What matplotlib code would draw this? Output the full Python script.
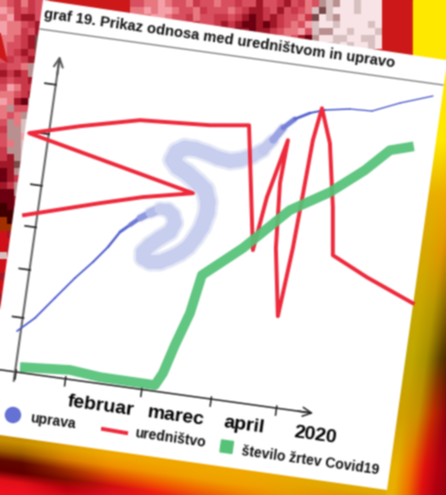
import numpy as np
import matplotlib
matplotlib.use('Agg')
import matplotlib.pyplot as plt
from matplotlib.collections import LineCollection
from matplotlib.colors import to_rgb, to_hex
from matplotlib.patches import Polygon, Rectangle
from matplotlib.transforms import Affine2D

plt.rcParams['font.family'] = ['Liberation Sans', 'DejaVu Sans']

# chart values
title = 'graf 19. Prikaz odnosa med uredništvom in upravo'
month_labels = ['februar', 'marec', 'april', '2020']
month_label_x = [88, 164, 233, 305]
x_ticks = [0, 50, 127, 197, 263]
y_ticks = [54.5, 103, 146, 188, 240, 290]

uprava_x = [-4.6, 11.4, 28.4, 45.5, 61.2, 73.9, 83.8, 92.7, 101.6, 110.9, 120.2, 128.3, 133.9, 137,
            133.3, 124.2, 115.3, 109.3, 110.1, 117.6, 127.5, 136.8, 146, 153.2, 158.9, 164.3, 167.4,
            166.8, 162.2, 153.2, 142.1, 132.3, 126.4, 129.3, 136.6, 146.7, 159.1, 170.7, 183, 192.8,
            204.1, 214.2, 222.7, 231, 241.5, 255.6, 270.1, 294.7, 316.7, 343.4, 375.1]
uprava_y = [40.7, 56.1, 78.7, 101.2, 119.6, 136.4, 153, 161.3, 169.5, 175.9, 181.3, 181.4, 177.1, 169.4,
            159.9, 152.5, 144.2, 136.3, 130.3, 127.4, 128.8, 134.1, 140.4, 147.4, 157.3, 169.2, 183.7,
            194.8, 206.3, 213.1, 220.6, 225.3, 231.6, 240, 245.1, 245.5, 243.1, 239.8, 238.4, 240.8,
            246.3, 253.8, 265.1, 278.4, 288.9, 296.9, 302, 306.4, 307.4, 319.2, 330.7]
uprava_spread = [2, 2, 2, 2, 2, 2.5, 3, 4, 6, 9, 12, 14, 15, 15,
                 16, 16, 16, 16, 16, 16, 16, 16, 16, 16, 16, 17, 17,
                 18, 18, 18, 18, 18, 18, 18, 17, 16, 16, 16, 16, 16,
                 15, 13, 10, 7, 4, 2.5, 2, 1.5, 1.5, 1.5, 1.5]

urednistvo_x = [-13.6, 60, 101.7, 150.7, -19.8, 29.7, 88.3, 158.3, 196.9, 217.9, 224.5, 237.5,
                235.5, 240.4, 251.7, 257.2, 259.5, 262.2, 266.8, 279.5, 291.2, 297.8, 334.5, 383.5]
urednistvo_y = [156.5, 178.8, 190.7, 201.4, 238.4, 252.3, 266.5, 271.1, 276.4, 153.3, 207.7, 267,
                223.3, 158.4, 91.3, 160.7, 209.5, 270.4, 303.3, 269.7, 206.8, 159.2, 142.1, 122.7]

zrtve_x = [3.3, 53.2, 83.8, 139.4, 145.7, 153.7, 164.2, 170.8, 207.7, 249, 286.2, 317.8, 339.9, 363]
zrtve_y = [5.5, 9.4, 6.5, 6.1, 19.1, 48.5, 82.2, 121.5, 153.9, 197.9, 221.2, 247.8, 271, 278.2]

# background colours
palette = {'p': '#f4a0a8', 'm': '#e87880', 'r': '#d85060', 's': '#c83848', 'd': '#a01828',
           'k': '#6a0010', 'g': '#b89090', 'w': '#f8e4e6', 'h': '#d8c0c0', 'b': '#7a4a4a',
           'o': '#a03000', 'R': '#d01018', 'K': '#400000'}
top_mosaic = ['rrmmpmrrmsrrmrrsrrdrrsdrsmrghgwwhwww',
              'mmpmppmrrmsrrrmrsddsrdrsrmhbhwwwhwww',
              'pmmppmrrsmrrssrsdkdsdsrrmsbwhgwwwwww',
              'ppmrmmrsrsrrsdsdkkdkdsrmrphwwhwwwwhw',
              'mpmmrrsrrmrsrsdkdkddsrmmprhggwwhwwwh',
              'pppmmrrrmmrmrrdkkdsrmpmrdkgwwhhwwhhw',
              'ppmmmrmrmrrrmsddsrmppmrkkrhwhhwhwwhw']
left_mosaic = ['mrsmsrr', 'pmsrsrd', 'mpsddrd', 'pmmrsdd', 'pmmsrdk', 'mmrsdbd', 'mrrsdbd',
               'mrsdsbg', 'rsrsdbb', 'srrmgpd', 'dsdsggk', 'srssdgg', 'rpmssgg', 'mmrsdkk',
               'pmdkghh', 'mgrrbgg', 'mrmgggh', 'rgmhgpp', 'sgghgpp', 'rggphgh', 'rmghhgg',
               'sgghgph', 'sdghggh', 'ddbgshh', 'kdgphhh', 'kdsgphh', 'dsgpphh', 'kkgghhh',
               'kkdhhhh', 'Kkkhhhh', 'KKkhhhh', 'oKohhhh', 'oooRRRR', 'RdoRRRR', 'RRRRRRR',
               'RdRRRRR', 'hRRRRRR', 'RRRRRRR', 'RRRRRRR', 'dRRRRRR', 'RRRRRRR', 'RRRRRRR',
               'dRRRRRR', 'RRRRRRR', 'RRRRRRR']
right_fade = [['#ffe800', '#ffe800', '#ffe800', '#ffe800', '#ffe800'],
              ['#ffe800', '#ffd800', '#f8c800', '#f8c000', '#f8b800'],
              ['#e8b000', '#f0a800', '#f09000', '#e08000', '#d07000'],
              ['#d8a800', '#e09800', '#c07000', '#a04808', '#803000'],
              ['#c8a800', '#b89800', '#806000', '#402000', '#301000'],
              ['#c0a800', '#a89000', '#604000', '#301000', '#200800'],
              ['#d0a000', '#c89000', '#c03000', '#900010', '#800000'],
              ['#e8b000', '#f07000', '#e01010', '#b00010', '#900010']]
bottom_fade = [['#c89000', '#e0a000', '#f0a800', '#f0a800', '#f0a800', '#f0a800', '#e8a800', '#e0a800', '#e0a800'],
               ['#a06000', '#d88000', '#f09000', '#f09800', '#f0a000', '#f0a000', '#e8a000', '#e89000', '#e08000'],
               ['#600800', '#a03000', '#e05000', '#f06000', '#f07000', '#f08000', '#f09000', '#f08000', '#e06000'],
               ['#600000', '#801000', '#d01010', '#f02010', '#f04010', '#f05010', '#f06010', '#e04010', '#d02010'],
               ['#e01018', '#c00010', '#e01020', '#f01020', '#f01820', '#f02020', '#f02020', '#e01818', '#c00010'],
               ['#f01020', '#e01018', '#f01020', '#f01020', '#f01020', '#f01020', '#f01020', '#e01018', '#b00010']]

red = '#ee2a3c'
green = '#55c277'


def mosaic(rows):
    return np.array([[to_rgb(palette[c]) for c in row] for row in rows])


def fade(rows):
    return np.array([[to_rgb(c) for c in row] for row in rows])


def soften(image, dpi):
    # the reference is an upscaled picture, so everything is a bit soft
    out = np.pad(image, 2, mode='edge')[:, :, 2:-2]
    for axis in (0, 1):
        out = 0.25 * np.roll(out, 1, axis) + 0.5 * out + 0.25 * np.roll(out, -1, axis)
    return out[2:-2, 2:-2], 0, 0


fig = plt.figure(figsize=(4.46, 4.95), dpi=100)
ax = fig.add_axes([0, 0, 1, 1])
ax.axis('off')

# background, in picture pixels
ax.add_patch(Rectangle((0, 0), 446, 495, color='#cc1818', zorder=0))
ax.add_patch(Rectangle((413, 0), 33, 90, color='#ffe800', zorder=0))
ax.imshow(mosaic(top_mosaic), extent=(130, 382, 49, 0), interpolation='nearest', aspect='auto', zorder=1)
ax.imshow(mosaic(left_mosaic), extent=(0, 49, 315, 0), interpolation='nearest', aspect='auto', zorder=1)
ax.add_patch(Polygon([(0, 33), (7, 62), (0, 57)], color='#cc1818', zorder=2))
im = ax.imshow(fade(bottom_fade), extent=(0, 400, 60, 0), interpolation='bilinear', aspect='auto', zorder=2)
im.set_transform(Affine2D.from_values(1, 0.142, 0, 1, 0, 435) + ax.transData)
im = ax.imshow(fade(right_fade), extent=(0, 70, 495, 60), interpolation='bilinear', aspect='auto', zorder=3)
im.set_transform(Affine2D.from_values(1, 0, -0.14, 1, 446 + 68 * 0.14, 0) + ax.transData)
ax.set_xlim(0, 446)
ax.set_ylim(495, 0)

# the sheet
ax.add_patch(Polygon([(43, 0), (446, 60), (446, 70), (387, 490), (0, 435), (0, 310)],
                     facecolor='white', edgecolor='none', zorder=4))
ax.plot([40, 443], [29, 85], color='#777777', lw=0.9, zorder=5)

# chart coordinates: y up, tilted 7.9 degrees clockwise around the origin of the axes
chart = Affine2D().scale(1, -1).rotate_deg(7.9).translate(16, 372) + ax.transData

# axes
ax.plot([-16, 296], [0, 0], color='#222222', lw=1.1, transform=chart, zorder=6)
ax.plot([-1, 0], [-9, 316], color='#666666', lw=1.5, transform=chart, zorder=6)
ax.annotate('', xy=(300, 0), xytext=(285, 0), xycoords=chart, textcoords=chart, zorder=6,
            arrowprops=dict(arrowstyle='->', color='#222222', lw=1.1, mutation_scale=16,
                            shrinkA=0, shrinkB=0))
ax.annotate('', xy=(0, 319), xytext=(0, 300), xycoords=chart, textcoords=chart, zorder=6,
            arrowprops=dict(arrowstyle='->', color='#555555', lw=1.4, mutation_scale=16,
                            shrinkA=0, shrinkB=0))
for t in x_ticks:
    ax.plot([t, t], [-7, 2], color='#222222', lw=1.1, transform=chart, zorder=6)
for t in y_ticks:
    ax.plot([-11, 0], [t, t], color='#222222', lw=1.2, transform=chart, zorder=6)

# uprava: sprayed line, thick and pale in the middle, thin at both ends
points = np.column_stack([uprava_x, uprava_y])
segments = np.stack([points[:-1], points[1:]], axis=1)
spread = np.array(uprava_spread)
mid_spread = (spread[:-1] + spread[1:]) / 2
thin_col = np.array(to_rgb('#4a58cc'))
thick_col = np.array(to_rgb('#c8cfee'))
mix = np.clip((mid_spread - 2) / 10, 0, 1)[:, None]
seg_cols = [to_hex(c) for c in thin_col * (1 - mix) + thick_col * mix]
halo = mid_spread > 5
ax.add_collection(LineCollection(segments[halo], linewidths=mid_spread[halo] * 0.85, colors='#e4e7f7',
                                 capstyle='round', joinstyle='round', transform=chart, zorder=7))
ax.add_collection(LineCollection(segments, linewidths=mid_spread * 0.62, colors=seg_cols,
                                 capstyle='round', joinstyle='round', transform=chart, zorder=7))

ax.plot(urednistvo_x, urednistvo_y, color=red, lw=2.8, solid_joinstyle='round', transform=chart, zorder=8)
ax.plot(zrtve_x, zrtve_y, color=green, lw=7, alpha=0.93, solid_capstyle='butt',
        solid_joinstyle='round', transform=chart, zorder=9)

# text
ax.text(156, 358, title, transform=chart, rotation=-8, rotation_mode='anchor', ha='center', va='center',
        fontsize=10.6, fontweight='bold', color='#111111', zorder=10)
for label, lx in zip(month_labels, month_label_x):
    ax.text(lx, -22, label, transform=chart, rotation=-8, rotation_mode='anchor', ha='center', va='center',
            fontsize=14, fontweight='bold', color='#000000', zorder=10)

# legend, drawn by hand because the whole sheet is tilted
ax.scatter([2.9], [-43], s=140, color='#4a58cc', alpha=0.85, edgecolors='none', transform=chart, zorder=10)
ax.plot([94, 117.4], [-44.5, -45.3], color=red, lw=2.8, transform=chart, zorder=10)
ax.add_patch(Rectangle((213, -51), 12, 12, color=green, transform=chart, zorder=10))
for lx, ly, label in [(43.4, -43.4, 'uprava'), (161.6, -44.2, 'uredništvo'), (303.5, -47.7, 'število žrtev Covid19')]:
    ax.text(lx, ly, label, transform=chart, rotation=-8, rotation_mode='anchor', ha='center', va='center',
            fontsize=10.1, fontweight='bold', color='#111111', zorder=10)

ax.set_agg_filter(soften)
fig.savefig('out.png', dpi=100)
